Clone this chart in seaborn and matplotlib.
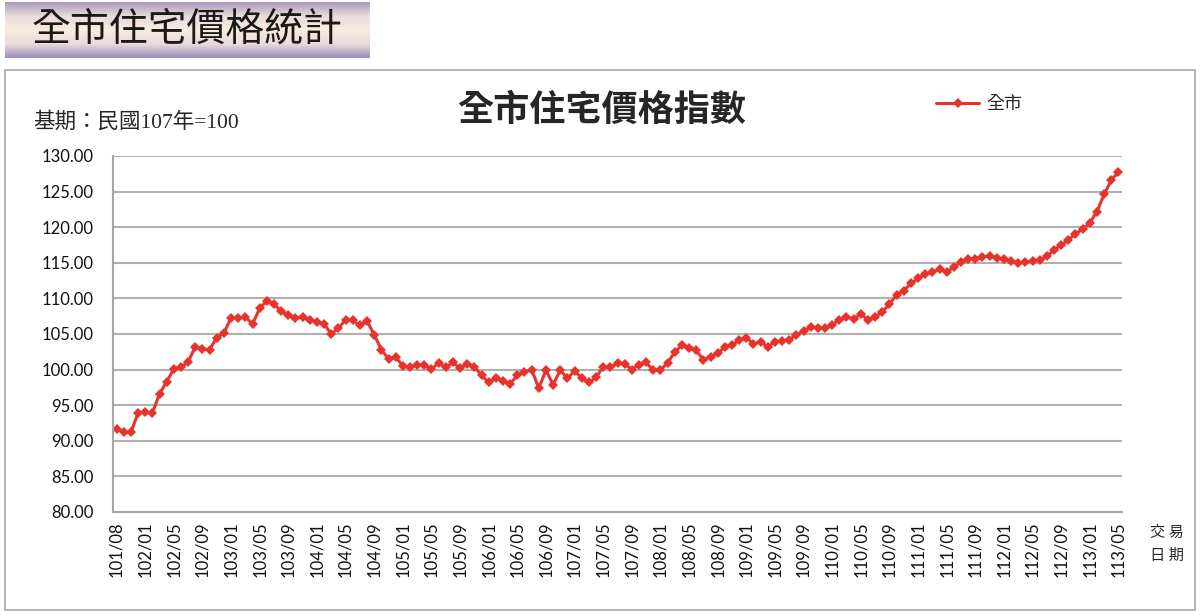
import numpy as np
import pandas as pd
import seaborn as sns
import matplotlib.pyplot as plt
from matplotlib.colors import LinearSegmentedColormap
from matplotlib.patches import Rectangle

# 全市住宅價格指數 (基期：民國107年=100), 101/08 ~ 113/05
periods = ["101/08", "101/09", "101/10", "101/11"] + \
    [f"{y}/{m:02d}" for y in range(102, 114) for m in range(1, 13)][:137]

values = [91.7, 91.2, 91.2, 93.9, 94.0, 93.9, 96.6, 98.3, 100.1, 100.3,
          101.1, 103.2, 102.9, 102.8, 104.5, 105.1, 107.3, 107.2, 107.4, 106.4,
          108.6, 109.7, 109.2, 108.2, 107.6, 107.2, 107.4, 106.9, 106.7, 106.4,
          105.0, 105.8, 107.0, 106.9, 106.2, 106.8, 104.9, 102.8, 101.5, 101.8,
          100.5, 100.3, 100.7, 100.6, 100.1, 100.9, 100.3, 101.0, 100.2, 100.8,
          100.4, 99.2, 98.2, 98.8, 98.4, 98.0, 99.2, 99.7, 100.0, 97.4,
          99.9, 97.9, 99.9, 98.8, 99.8, 98.8, 98.2, 98.9, 100.4, 100.3,
          100.9, 100.8, 100.0, 100.7, 101.0, 99.9, 100.0, 100.9, 102.5, 103.4,
          103.1, 102.7, 101.4, 101.8, 102.3, 103.2, 103.5, 104.1, 104.5, 103.6,
          103.9, 103.2, 103.9, 104.0, 104.2, 104.9, 105.4, 106.0, 105.8, 105.8,
          106.3, 107.0, 107.4, 107.1, 107.8, 107.0, 107.4, 108.1, 109.2, 110.5,
          111.1, 112.1, 112.8, 113.4, 113.7, 114.1, 113.7, 114.4, 115.1, 115.5,
          115.6, 115.8, 116.0, 115.7, 115.5, 115.2, 114.95, 115.1, 115.3, 115.4,
          115.9, 116.8, 117.5, 118.2, 119.1, 119.7, 120.6, 122.2, 124.6, 126.6, 127.8]

yticks = [80, 85, 90, 95, 100, 105, 110, 115, 120, 125, 130]
label_step = 4

df = pd.DataFrame({"idx": range(len(values)), "period": periods, "value": values})

sns.set_style("white")
cjk = ["Noto Sans CJK TC", "DejaVu Sans"]
plt.rcParams["font.family"] = cjk

W, H = 1200, 616
fig = plt.figure(figsize=(W / 100, H / 100), dpi=100)

# 左上標題條 (漸層底色)
bax = fig.add_axes([5 / W, 1 - 58 / H, 365 / W, 56 / H])
grad = np.linspace(0, 1, 200).reshape(-1, 1)
banner = LinearSegmentedColormap.from_list(
    "banner", ["#a999c0", "#e9dcdc", "#f8ebdf", "#e9dbdb", "#9d8fb8"])
bax.imshow(grad, aspect="auto", cmap=banner, extent=[0, 1, 0, 1])
bax.axis("off")
bax.text(0.5, 0.5, "全市住宅價格統計", ha="center", va="center",
         fontsize=28, fontweight="medium", color="#1a1a1a", transform=bax.transAxes)

# 圖表外框
fig.patches.append(Rectangle((5 / W, 1 - 610 / H), 1190 / W, 540 / H,
                             transform=fig.transFigure, fill=False,
                             edgecolor="#a6a6a6", lw=1.2))

ax = fig.add_axes([113 / W, 1 - 512 / H, (1122 - 113) / W, (512 - 156) / H])
sns.lineplot(data=df, x="idx", y="value", ax=ax, color="#e8332c", lw=2.2,
             marker="D", markersize=5, markeredgewidth=0, label="全市", legend=False)

ax.set_xlim(-0.5, len(values) - 0.5)
ax.set_ylim(80, 130)
ax.set_yticks(yticks)
ax.set_yticklabels([f"{v:.2f}" for v in yticks], family="Lato", fontsize=12,
                   color="#111111")
tick_idx = list(range(0, len(values), label_step))
ax.set_xticks(tick_idx)
ax.set_xticklabels([periods[i] for i in tick_idx], rotation=90, va="top",
                   family="Lato", fontsize=12, color="#111111")
ax.set_xticks(np.arange(-0.5, len(values), 1), minor=True)
ax.tick_params(axis="x", which="major", length=0, pad=7)
ax.tick_params(axis="x", which="minor", length=4, color="#a6a6a6", width=1)
ax.tick_params(axis="y", length=6, color="#a6a6a6", width=1.5, pad=8)
ax.set_xlabel("")
ax.set_ylabel("")
ax.yaxis.grid(True, color="#b0b0b0", lw=1.5)
ax.set_axisbelow(True)
for s in ["top", "right"]:
    ax.spines[s].set_visible(False)
for s in ["left", "bottom"]:
    ax.spines[s].set_color("#a6a6a6")
    ax.spines[s].set_linewidth(1.5)

fig.text(602 / W, 1 - 110 / H, "全市住宅價格指數", ha="center", va="center",
         fontsize=26, fontweight="bold")
fig.text(33 / W, 1 - 122 / H, "基期：民國107年=100", ha="left", va="center",
         fontsize=15.5, family=["Liberation Serif", "Noto Sans CJK TC"])
fig.text(1167 / W, 1 - 532 / H, "交 易", ha="center", va="center", fontsize=11)
fig.text(1167 / W, 1 - 555 / H, "日 期", ha="center", va="center", fontsize=11)

handles, labels = ax.get_legend_handles_labels()
fig.legend(handles, labels, loc="center left", bbox_to_anchor=(936 / W, 1 - 104 / H),
           frameon=False, handlelength=2.4, handletextpad=0.4, fontsize=13,
           borderaxespad=0, borderpad=0)

fig.savefig("out.png", dpi=100)
